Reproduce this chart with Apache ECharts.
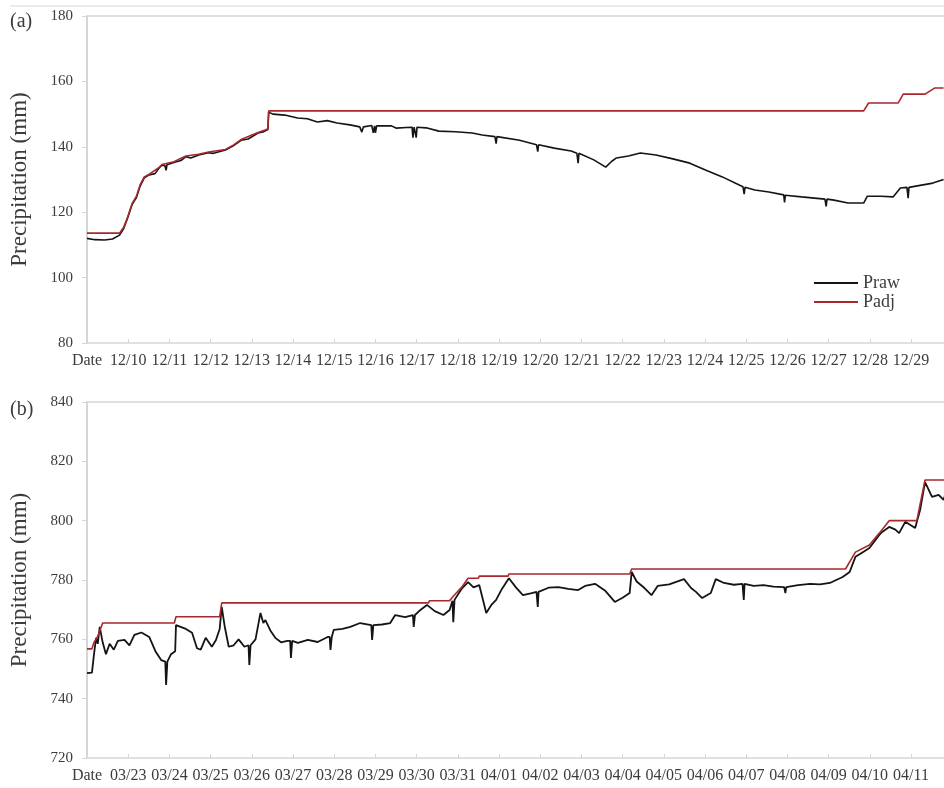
<!DOCTYPE html>
<html>
<head>
<meta charset="utf-8">
<script src="https://cdn.jsdelivr.net/npm/echarts@6/dist/echarts.min.js"></script>
<style>
  html, body { margin: 0; padding: 0; background: #fff; }
  #chart { width: 944px; height: 788px; }
</style>
</head>
<body>
<div id="chart"></div>
<script>
// Day-axis tick labels (index = days since the first "Date" tick)
const decTicks = ['Date', '12/10', '12/11', '12/12', '12/13', '12/14', '12/15', '12/16', '12/17', '12/18',
  '12/19', '12/20', '12/21', '12/22', '12/23', '12/24', '12/25', '12/26', '12/27', '12/28', '12/29'];
const marTicks = ['Date', '03/23', '03/24', '03/25', '03/26', '03/27', '03/28', '03/29', '03/30', '03/31',
  '04/01', '04/02', '04/03', '04/04', '04/05', '04/06', '04/07', '04/08', '04/09', '04/10', '04/11'];

// (a) December event: [day, precipitation mm]
const decRaw = [
  [0.00, 112.0], [0.19, 111.6], [0.43, 111.5], [0.62, 111.8], [0.79, 113.0], [0.89, 115.0], [0.98, 118.0],
  [1.10, 122.5], [1.20, 124.5], [1.29, 128.0], [1.39, 130.5], [1.51, 131.4], [1.65, 131.8], [1.75, 133.5],
  [1.82, 134.4], [1.89, 134.3], [1.92, 132.8], [1.94, 134.5], [2.11, 135.2], [2.28, 135.8], [2.40, 137.0],
  [2.52, 136.6], [2.71, 137.5], [2.95, 138.2], [3.07, 138.0], [3.36, 139.0], [3.55, 140.3], [3.74, 142.0],
  [3.91, 142.4], [4.15, 144.2], [4.27, 144.5], [4.34, 145.0], [4.39, 145.3], [4.41, 150.6], [4.51, 150.0],
  [4.80, 149.7], [5.11, 148.8], [5.35, 148.6], [5.59, 147.6], [5.83, 148.0], [6.07, 147.3], [6.38, 146.7],
  [6.62, 146.1], [6.67, 144.5], [6.71, 146.1], [6.91, 146.5], [6.95, 144.3], [6.98, 146.4], [7.00, 144.3],
  [7.03, 146.4], [7.39, 146.4], [7.51, 145.7], [7.75, 145.9], [7.89, 146.0], [7.91, 142.8], [7.94, 146.0],
  [7.99, 142.8], [8.01, 146.0], [8.23, 145.8], [8.54, 144.8], [8.94, 144.6], [9.35, 144.2], [9.59, 143.6],
  [9.90, 143.1], [9.93, 141.0], [9.95, 143.1], [10.50, 142.0], [10.91, 140.6], [10.94, 138.5], [10.96, 140.6],
  [11.34, 139.6], [11.75, 138.7], [11.89, 138.0], [11.92, 135.0], [11.94, 138.0], [12.30, 136.0], [12.59, 133.8],
  [12.73, 135.5], [12.85, 136.6], [13.14, 137.2], [13.43, 138.1], [13.81, 137.5], [14.22, 136.3], [14.63, 135.0],
  [15.01, 132.9], [15.42, 130.8], [15.83, 128.3], [15.92, 127.8], [15.95, 125.5], [15.97, 127.6], [16.21, 126.8],
  [16.55, 126.2], [16.91, 125.3], [16.93, 123.0], [16.95, 125.2], [17.34, 124.7], [17.91, 124.0], [17.94, 121.8],
  [17.96, 124.0], [18.13, 123.7], [18.47, 122.8], [18.85, 122.8], [18.94, 124.9], [19.26, 124.9], [19.57, 124.7],
  [19.74, 127.4], [19.90, 127.6], [19.93, 124.3], [19.95, 127.6], [20.22, 128.2], [20.53, 128.9], [20.79, 130.0]
];
const decAdj = [
  [0.00, 113.6], [0.79, 113.6], [0.89, 115.4], [0.98, 118.3], [1.10, 122.8], [1.20, 124.9], [1.29, 128.4],
  [1.39, 130.8], [1.51, 131.6], [1.75, 133.7], [1.82, 134.6], [2.11, 135.4], [2.40, 137.2], [2.71, 137.7],
  [2.95, 138.4], [3.36, 139.2], [3.55, 140.5], [3.74, 142.2], [4.15, 144.4], [4.34, 145.2], [4.39, 145.5],
  [4.41, 151.0], [18.85, 151.0], [18.97, 153.4], [19.69, 153.4], [19.81, 156.1], [20.34, 156.1],
  [20.58, 158.0], [20.79, 158.0]
];

// (b) March-April event: [day, precipitation mm]
const marRaw = [
  [0.00, 748.6], [0.12, 748.8], [0.17, 755.0], [0.22, 760.5], [0.26, 758.5], [0.31, 764.2], [0.38, 759.0],
  [0.46, 755.0], [0.55, 758.5], [0.65, 756.5], [0.75, 759.5], [0.91, 759.8], [1.03, 758.0], [1.15, 761.5],
  [1.32, 762.3], [1.51, 760.8], [1.66, 756.0], [1.80, 753.0], [1.90, 752.5], [1.92, 744.6], [1.95, 752.5],
  [2.04, 755.0], [2.14, 756.0], [2.16, 764.8], [2.40, 763.5], [2.55, 762.2], [2.67, 757.0], [2.76, 756.5],
  [2.88, 760.5], [3.03, 757.5], [3.13, 759.8], [3.22, 763.5], [3.27, 770.9], [3.34, 764.5], [3.44, 757.5],
  [3.56, 758.0], [3.68, 760.0], [3.82, 757.5], [3.92, 758.0], [3.94, 751.4], [3.97, 758.0], [4.09, 760.0],
  [4.21, 768.9], [4.28, 765.5], [4.33, 766.5], [4.45, 763.0], [4.57, 760.5], [4.71, 759.0], [4.86, 759.5],
  [4.93, 759.5], [4.95, 753.7], [4.98, 759.5], [5.12, 758.8], [5.36, 759.8], [5.60, 759.1], [5.84, 760.8],
  [5.89, 760.8], [5.91, 756.4], [5.94, 760.8], [5.99, 763.2], [6.20, 763.5], [6.39, 764.2], [6.63, 765.5],
  [6.90, 764.8], [6.92, 759.8], [6.95, 764.8], [7.16, 765.0], [7.36, 765.5], [7.48, 768.2], [7.72, 767.5],
  [7.91, 768.2], [7.93, 764.2], [7.96, 768.2], [8.10, 770.0], [8.25, 771.6], [8.44, 769.5], [8.65, 768.2],
  [8.80, 769.9], [8.87, 773.0], [8.89, 765.8], [8.92, 773.3], [9.09, 777.0], [9.25, 779.3], [9.38, 777.5],
  [9.52, 778.3], [9.69, 768.9], [9.81, 771.5], [9.93, 773.3], [10.07, 777.0], [10.24, 780.6], [10.41, 777.5],
  [10.58, 774.9], [10.77, 775.5], [10.91, 776.0], [10.94, 770.9], [10.96, 776.0], [11.20, 777.4], [11.44, 777.6],
  [11.68, 777.0], [11.92, 776.6], [12.09, 778.0], [12.33, 778.7], [12.57, 776.5], [12.81, 772.6], [13.00, 774.0],
  [13.17, 775.6], [13.22, 782.7], [13.34, 779.5], [13.53, 777.3], [13.70, 774.9], [13.85, 778.0], [14.13, 778.5],
  [14.49, 780.3], [14.66, 777.3], [14.78, 776.0], [14.93, 773.9], [15.14, 775.6], [15.26, 780.3], [15.46, 779.0],
  [15.70, 778.4], [15.91, 778.7], [15.94, 773.3], [15.96, 778.7], [16.18, 778.0], [16.42, 778.3], [16.66, 777.8],
  [16.92, 777.6], [16.95, 775.6], [16.97, 777.6], [17.26, 778.3], [17.55, 778.7], [17.79, 778.5], [18.03, 779.0],
  [18.34, 781.0], [18.51, 782.7], [18.65, 787.8], [18.82, 789.3], [18.99, 790.8], [19.23, 795.2], [19.30, 796.2],
  [19.47, 797.9], [19.62, 797.0], [19.71, 795.8], [19.86, 799.6], [20.10, 797.5], [20.22, 803.6], [20.34, 813.0],
  [20.51, 808.0], [20.67, 808.7], [20.79, 807.0], [20.84, 809.3]
];
const marAdj = [
  [0.00, 756.8], [0.12, 756.8], [0.17, 759.0], [0.26, 761.0], [0.38, 765.5], [2.12, 765.5], [2.16, 767.6],
  [3.22, 767.6], [3.27, 772.3], [8.29, 772.3], [8.31, 773.0], [8.80, 773.0], [8.89, 774.5], [9.09, 777.5],
  [9.25, 780.6], [9.50, 780.6], [9.52, 781.3], [10.22, 781.3], [10.24, 782.0], [13.17, 782.0], [13.22, 783.7],
  [18.41, 783.7], [18.65, 789.4], [18.99, 791.8], [19.23, 795.8], [19.35, 797.9], [19.47, 800.0], [20.14, 800.0],
  [20.34, 813.7], [20.84, 813.7]
];

const FONT = 'Liberation Serif';
const TXT = '#3c3c3c';
const AXIS = '#d6d6d6';
const RAW_COLOR = '#141414';
const ADJ_COLOR = '#a8282e';
const X_MAX = 20.8;

function bottomAxis(gridIndex, labels) {
  return {
    type: 'value', gridIndex, min: 0, max: X_MAX, interval: 1,
    axisLine: { show: true, lineStyle: { color: AXIS, width: 1.5 } },
    axisTick: { show: true, inside: true, length: 4, lineStyle: { color: AXIS } },
    splitLine: { show: false },
    axisLabel: {
      showMaxLabel: false, margin: 10,
      color: TXT, fontFamily: FONT, fontSize: 16,
      formatter: v => (Number.isInteger(v) && labels[v] !== undefined) ? labels[v] : ''
    }
  };
}
function topBorder(gridIndex) {
  return {
    type: 'value', gridIndex, position: 'top', min: 0, max: X_MAX,
    axisLine: { show: true, lineStyle: { color: AXIS, width: 1.5 } },
    axisTick: { show: false }, axisLabel: { show: false }, splitLine: { show: false }
  };
}
function leftAxis(gridIndex, min, max) {
  return {
    type: 'value', gridIndex, min, max, interval: 20,
    name: 'Precipitation (mm)', nameLocation: 'middle', nameRotate: 90, nameGap: 56,
    nameTextStyle: { color: TXT, fontFamily: FONT, fontSize: 23 },
    axisLine: { show: true, lineStyle: { color: AXIS, width: 2 } },
    axisTick: { show: true, length: 5, lineStyle: { color: AXIS } },
    splitLine: { show: false },
    axisLabel: { margin: 14, color: TXT, fontFamily: FONT, fontSize: 15 }
  };
}
function lineSeries(name, xi, yi, data, color, width) {
  return {
    name, type: 'line', xAxisIndex: xi, yAxisIndex: yi, data,
    showSymbol: false, symbol: 'none', silent: true,
    lineStyle: { color, width }, itemStyle: { color }
  };
}

const chart = echarts.init(document.getElementById('chart'), null, { renderer: 'canvas' });
chart.setOption({
  animation: false,
  backgroundColor: '#ffffff',
  grid: [
    { left: 77, top: 16, right: 0, height: 327 },
    { left: 77, top: 402, right: 0, height: 356 }
  ],
  xAxis: [bottomAxis(0, decTicks), bottomAxis(1, marTicks), topBorder(0), topBorder(1)],
  yAxis: [leftAxis(0, 80, 180), leftAxis(1, 720, 840)],
  legend: {
    data: ['Praw', 'Padj'], orient: 'vertical', left: 809, top: 269,
    icon: 'rect', itemWidth: 44, itemHeight: 2, itemGap: 1,
    textStyle: { color: TXT, fontFamily: FONT, fontSize: 18 }
  },
  graphic: [
    { type: 'line', shape: { x1: 10, y1: 6, x2: 944, y2: 6 }, style: { stroke: '#e4e4e4', lineWidth: 1.5 } },
    { type: 'text', left: 10, top: 12, style: { text: '(a)', fill: TXT, font: '20px "Liberation Serif"' } },
    { type: 'text', left: 10, top: 400, style: { text: '(b)', fill: TXT, font: '20px "Liberation Serif"' } }
  ],
  series: [
    lineSeries('Praw', 0, 0, decRaw, RAW_COLOR, 1.6),
    lineSeries('Padj', 0, 0, decAdj, ADJ_COLOR, 1.6),
    lineSeries('Praw', 1, 1, marRaw, RAW_COLOR, 1.8),
    lineSeries('Padj', 1, 1, marAdj, ADJ_COLOR, 1.6)
  ]
});
</script>
</body>
</html>
